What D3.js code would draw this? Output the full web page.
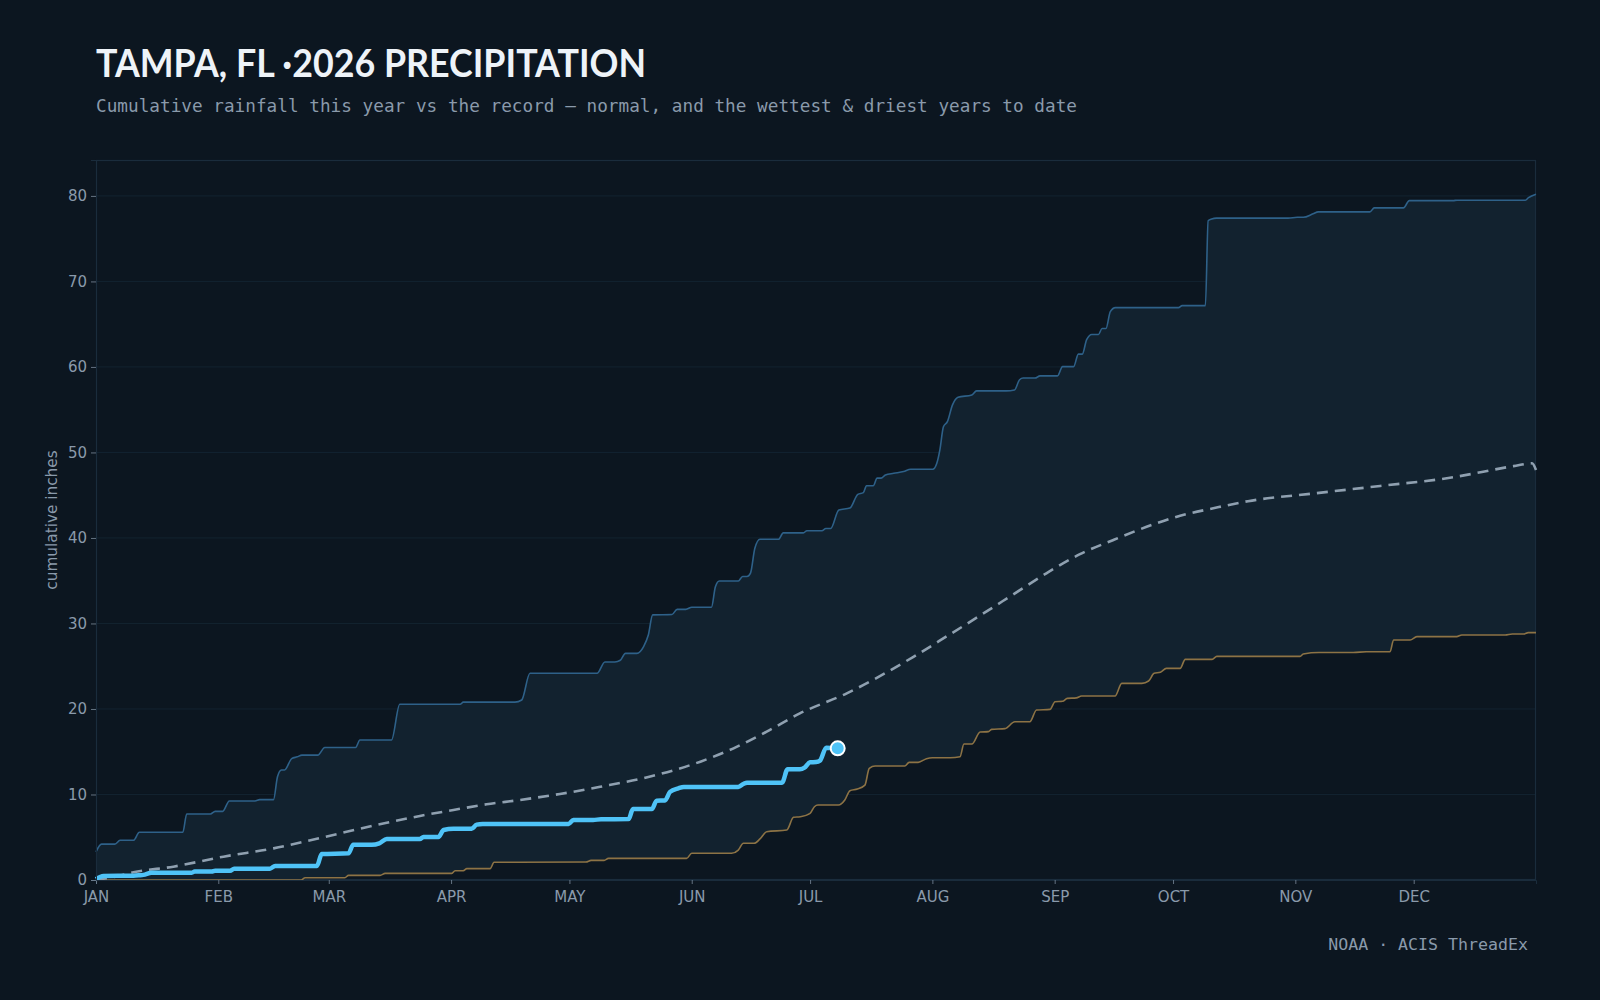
<!DOCTYPE html>
<html><head><meta charset="utf-8">
<script src="https://cdn.jsdelivr.net/npm/d3@7"></script>
<style>html,body{margin:0;background:#0c1620;} svg{display:block}</style>
</head><body><svg id="c" width="1600" height="1000"></svg>
<script>
// ---------- data (day of year from Jan 1 = 0, cumulative inches) ----------
const yTicks = [0, 10, 20, 30, 40, 50, 60, 70, 80];

const wettestDays = [0,1.4,4.8,6.1,9.5,11,22,23,29,30.2,32.1,33.8,40.3,41.5,45,46,47,47.8,49.6,51,52.2,56.2,58,65.8,66.9,74.9,77,92.3,93.1,106.2,107.9,110,127,129,131.5,132.9,134.2,137.1,138.8,140,141.1,146,147.3,149.5,151,156,157,158,162.8,163.9,165,165.9,167,168.3,173,174.2,179.3,180.2,184,185,186.2,188.3,191.1,193.1,194.5,195.3,197,198,199,200.1,202.2,204.7,206.5,212.1,213.1,213.9,214.8,215.8,217.1,218.5,222,223.2,230.7,232.8,234.1,235,238,239.3,243.7,245,247.8,249,250,251.1,252.4,254.1,255,256,257.1,258.4,274.4,275.3,281.2,281.9,282.8,284,302.2,304.5,306,308.5,309.8,322.9,324,331.4,332.9,344,345,362.3,363.1,365];
const wettestVals = [3.3,4.2,4.2,4.64,4.64,5.58,5.58,7.72,7.72,8.03,8.03,9.24,9.24,9.4,9.4,12.08,12.87,12.87,14.2,14.4,14.6,14.6,15.5,15.5,16.37,16.37,20.55,20.55,20.8,20.8,21.05,24.17,24.17,25.5,25.5,25.7,26.5,26.5,27.3,28.65,31.0,31.05,31.65,31.65,31.9,31.9,34.3,34.97,34.97,35.5,35.5,35.9,38.8,39.85,39.85,40.6,40.6,40.85,40.85,41.1,41.1,43.27,43.5,45.1,45.3,46.1,46.1,47.0,47.0,47.37,47.56,47.76,48.03,48.03,48.7,50.3,53.0,53.6,55.56,56.45,56.73,57.2,57.2,57.3,58.5,58.7,58.7,58.95,58.95,60.04,60.04,61.5,61.5,63.2,63.8,63.8,64.5,64.5,66.47,66.94,66.94,67.17,67.17,77.1,77.3,77.4,77.4,77.5,77.5,77.9,78.13,78.13,78.6,78.6,79.45,79.45,79.5,79.5,79.8,80.2];

const driestDays = [0,52,53,63.1,64,72,73.3,90.2,91,93.1,94,99.9,100.9,124.2,125.5,128.8,129.9,149.7,151,161.1,162.8,164.1,166.8,168.3,170,175.1,176.8,178.5,181,182.1,183,188.2,189.8,191.1,193,194.9,196,197.5,205,206.1,208.4,210.5,212,216.5,219,220,222,224.1,226.2,227,230.4,232.9,236.7,238.4,241.8,243.1,245,246.2,248.5,249.8,258.3,260,265.1,266.8,268.2,269.8,271.3,274.8,276.1,282.9,284.1,305.2,306,310,318.7,322,328,328.9,333.1,334.8,344.9,346.2,357.2,359,362,363,365];
const driestVals = [0,0,0.27,0.27,0.54,0.54,0.78,0.78,1.09,1.09,1.33,1.33,2.07,2.1,2.3,2.3,2.53,2.53,3.12,3.12,3.5,4.29,4.29,4.8,5.65,5.85,7.33,7.4,7.8,8.57,8.77,8.77,9.36,10.45,10.64,11.1,13.06,13.33,13.33,13.76,13.76,14.19,14.3,14.3,14.42,15.9,15.9,17.3,17.35,17.62,17.7,18.5,18.5,19.88,19.95,20.85,20.9,21.24,21.3,21.52,21.52,23.0,23.0,23.27,24.17,24.3,24.75,24.75,25.8,25.8,26.15,26.15,26.43,26.6,26.6,26.7,26.7,28.07,28.07,28.46,28.46,28.65,28.65,28.77,28.77,28.93,28.93];

const normalDays = [0,5,9.5,19.6,32.3,45,57.6,73.7,82.1,90.6,99,107.5,117.6,127.8,140.5,153.2,161.6,170,178.4,190.3,207.2,216,224,232.5,241,249.4,257.9,266.3,274.8,283.2,292,308.6,325.5,342.4,359.3,364,365];
const normalVals = [0,0.4,0.9,1.56,2.73,3.7,5.0,6.7,7.49,8.19,8.85,9.36,10.06,10.9,12.1,13.84,15.4,17.35,19.48,21.83,26.1,28.6,30.9,33.4,35.9,38.1,39.77,41.3,42.6,43.47,44.3,45.2,46.08,46.98,48.4,48.73,47.95];

const thisYearDays = [0,1.9,9.5,11,12,14.1,24.3,25,29.3,30.2,34,35,44.1,45.4,56,57.2,64,65.2,69.9,71.8,73.7,82.1,83,86.8,88.1,90.6,95.2,96.5,98,119.8,121,126,128,135,136.1,140.9,142.1,144.2,145.5,147.6,149,162.8,164.1,165,173.9,175.3,178.4,179.6,181,182.5,183.5,185.1,188];
const thisYearVals = [0.1,0.47,0.5,0.55,0.6,0.86,0.86,0.98,0.98,1.09,1.09,1.33,1.33,1.64,1.64,3.04,3.12,4.13,4.13,4.29,4.8,4.8,5.03,5.03,5.85,6.0,6.0,6.47,6.55,6.55,7.02,7.02,7.1,7.12,8.3,8.3,9.27,9.3,10.3,10.72,10.88,10.88,11.23,11.38,11.38,12.95,12.95,13.14,13.76,13.8,13.96,15.48,15.4];

const titleText = "TAMPA, FL ·2026 PRECIPITATION";
const subtitleText = "Cumulative rainfall this year vs the record — normal, and the wettest & driest years to date";
const sourceText = "NOAA · ACIS ThreadEx";
const yLabel = "cumulative inches";

// ---------- layout ----------
const W = 1600, H = 1000;
const m = {left: 96, right: 1536, top: 160, bottom: 880};
const start = Date.UTC(2026, 0, 1), end = Date.UTC(2027, 0, 1);
const toDate = d => new Date(start + d * 864e5);
const zip = (ds, vs) => ds.map((d, i) => ({date: toDate(d), v: vs[i]}));
const wettest = zip(wettestDays, wettestVals);
const driest = zip(driestDays, driestVals);
const normal = zip(normalDays, normalVals);
const thisYear = zip(thisYearDays, thisYearVals);

const C = {bg: "#0c1620", band: "#12222f", grid: "#132330", frame: "#1a2c3c",
  wet: "#2e6189", dry: "#8d7345", normal: "#8fa0b0", now: "#4fc3f7", text: "#8a9aab"};

const svg = d3.select("#c");
svg.append("rect").attr("width", W).attr("height", H).attr("fill", C.bg);

const x = d3.scaleUtc().domain([new Date(start), new Date(end)]).range([m.left, m.right]);
const y = d3.scaleLinear().domain([0, 84.2]).range([m.bottom, m.top]);

// gridlines
svg.append("g").selectAll("line").data(yTicks.filter(t => t > 0)).join("line")
  .attr("x1", m.left).attr("x2", m.right).attr("y1", d => y(d)).attr("y2", d => y(d))
  .attr("stroke", C.grid).attr("stroke-width", 1);

// band between wettest & driest via mask
const defs = svg.append("defs");
const mask = defs.append("mask").attr("id", "bandMask").attr("maskUnits", "userSpaceOnUse")
  .attr("x", 0).attr("y", 0).attr("width", W).attr("height", H);
const areaW = d3.area().x(d => x(d.date)).y0(y(0)).y1(d => y(d.v)).curve(d3.curveMonotoneX);
mask.append("path").datum(wettest).attr("d", areaW).attr("fill", "white");
mask.append("path").datum(driest).attr("d", areaW).attr("fill", "black");
svg.append("rect").attr("x", m.left).attr("y", m.top).attr("width", m.right - m.left)
  .attr("height", m.bottom - m.top).attr("fill", C.band).attr("mask", "url(#bandMask)");

// frame
svg.append("rect").attr("x", m.left + 0.5).attr("y", m.top + 0.5)
  .attr("width", m.right - m.left - 1).attr("height", m.bottom - m.top - 1)
  .attr("fill", "none").attr("stroke", C.frame).attr("stroke-width", 1.2);

const line = d3.line().x(d => x(d.date)).y(d => y(d.v)).curve(d3.curveMonotoneX);

svg.append("path").datum(driest).attr("d", line).attr("fill", "none")
  .attr("stroke", C.dry).attr("stroke-width", 1.6);
svg.append("path").datum(wettest).attr("d", line).attr("fill", "none")
  .attr("stroke", C.wet).attr("stroke-width", 1.6);
svg.append("path").datum(normal).attr("d", line).attr("fill", "none")
  .attr("stroke", C.normal).attr("stroke-width", 2.6).attr("stroke-dasharray", "11,7");
svg.append("path").datum(thisYear).attr("d", line).attr("fill", "none")
  .attr("stroke", C.now).attr("stroke-width", 4.5).attr("stroke-linejoin", "round");

const last = thisYear[thisYear.length - 1];
svg.append("circle").attr("cx", x(last.date)).attr("cy", y(last.v)).attr("r", 7)
  .attr("fill", C.now).attr("stroke", "#ffffff").attr("stroke-width", 2);

// axes
const fmt = d3.utcFormat("%b");
const xAxis = svg.append("g").attr("transform", `translate(0,${m.bottom})`)
  .call(d3.axisBottom(x).tickValues(d3.utcMonth.range(new Date(start), new Date(end)))
    .tickFormat(d => fmt(d).toUpperCase()).tickSize(4).tickPadding(7));
const yAxis = svg.append("g").attr("transform", `translate(${m.left},0)`)
  .call(d3.axisLeft(y).tickValues(yTicks).tickSize(5).tickPadding(4));
[xAxis, yAxis].forEach(g => {
  g.select(".domain").attr("stroke", C.frame);
  g.selectAll(".tick line").attr("stroke", C.text).attr("stroke-opacity", 0.7);
  g.selectAll(".tick text").attr("fill", C.text).attr("font-family", "DejaVu Sans, sans-serif")
    .attr("font-size", 15);
});

svg.append("text").attr("transform", `translate(57,${(m.top + m.bottom) / 2}) rotate(-90)`)
  .attr("text-anchor", "middle").attr("fill", C.text)
  .attr("font-family", "DejaVu Sans, sans-serif").attr("font-size", 15.3).text(yLabel);

// titles
svg.append("text").attr("x", 96).attr("y", 77).attr("fill", "#eef3f8")
  .attr("font-family", "Lato, sans-serif").attr("font-weight", 700).attr("font-size", 38)
  .attr("textLength", 550).attr("lengthAdjust", "spacingAndGlyphs").text(titleText);
svg.append("text").attr("x", 96).attr("y", 112).attr("fill", C.text)
  .attr("font-family", "DejaVu Sans Mono, monospace").attr("font-size", 17.7)
  .attr("textLength", 981).attr("lengthAdjust", "spacing").text(subtitleText);
svg.append("text").attr("x", 1528).attr("y", 950).attr("text-anchor", "end").attr("fill", C.text)
  .attr("font-family", "DejaVu Sans Mono, monospace").attr("font-size", 16.6).text(sourceText);
</script></body></html>
